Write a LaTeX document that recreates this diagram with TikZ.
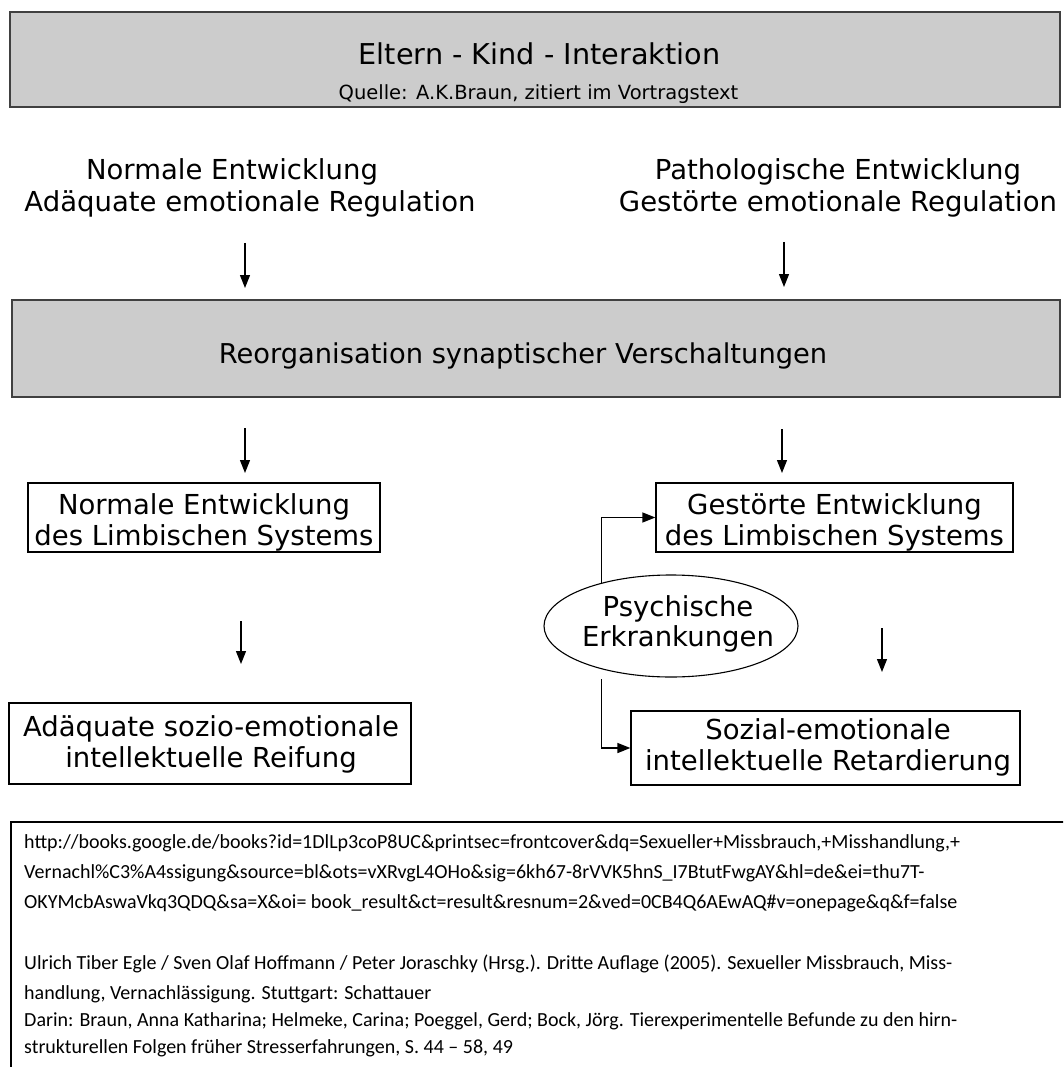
\documentclass[tikz,border=0pt]{standalone}
\usepackage{fontspec}
\setmainfont{DejaVu Sans}
\newfontfamily\reffont{Carlito}
\usetikzlibrary{arrows.meta,shapes.geometric}
\definecolor{boxgray}{HTML}{CCCCCC}
\definecolor{edgegray}{HTML}{404040}
\tikzset{
  graybox/.style={draw=edgegray, line width=1.6pt, fill=boxgray, rectangle, inner sep=0pt},
  whitebox/.style={draw=black, line width=1.2pt, rectangle, inner sep=0pt},
  ellbox/.style={draw=black, line width=1.1pt, ellipse, inner sep=0pt},
  maintxt/.style={font=\fontsize{27.5}{32}\selectfont, inner sep=0pt, anchor=base},
  titletxt/.style={font=\fontsize{28.7}{33}\selectfont, inner sep=0pt, anchor=base},
  srctxt/.style={font=\fontsize{19.5}{23}\selectfont, inner sep=0pt, anchor=base},
  reftxt/.style={font=\reffont\fontsize{20}{24}\selectfont, inner sep=0pt, anchor=base west},
  arr/.style={draw=black, line width=1.3pt, -{Triangle[length=13pt,width=10pt]}},
  conn/.style={draw=black, line width=1.3pt, -{Triangle[length=13pt,width=10pt]}}
}
\begin{document}
\begin{tikzpicture}[x=1pt,y=-1pt]
\useasboundingbox (0,0) rectangle (1063,1067);
\clip (0,0) rectangle (1063,1067);
\fill[white] (0,0) rectangle (1063,1067);

% top gray box
\node[graybox, minimum width=1050pt, minimum height=95pt] (top) at (535,59.5) {};
\node[titletxt] (title) at (539.5,65) {Eltern - Kind - Interaktion};
\node[srctxt] (quelle) at (538.5,100) {Quelle: A.K.Braun, zitiert im Vortragstext};

% headers
\node[maintxt] (hl1) at (232,180) {Normale Entwicklung};
\node[maintxt] (hl2) at (250,212) {Adäquate emotionale Regulation};
\node[maintxt] (hr1) at (838,180) {Pathologische Entwicklung};
\node[maintxt] (hr2) at (838,212) {Gestörte emotionale Regulation};

% arrows to middle box
\coordinate (a1s) at (245,243);
\coordinate (a1e) at (245,288);
\coordinate (a2s) at (784,242);
\coordinate (a2e) at (784,287);
\draw[arr] (a1s) -- (a1e);
\draw[arr] (a2s) -- (a2e);

% middle gray box
\node[graybox, minimum width=1048pt, minimum height=97pt] (mid) at (536,348.5) {};
\node[titletxt, font=\fontsize{27.3}{32}\selectfont] (midtxt) at (523,363) {Reorganisation synaptischer Verschaltungen};

% arrows below middle box
\coordinate (a3s) at (245,428);
\coordinate (a3e) at (245,473);
\coordinate (a4s) at (782,429);
\coordinate (a4e) at (782,473);
\draw[arr] (a3s) -- (a3e);
\draw[arr] (a4s) -- (a4e);

% limbic boxes
\node[whitebox, minimum width=352pt, minimum height=69pt] (ne) at (204,517.5) {};
\node[maintxt] (ne1) at (204,514) {Normale Entwicklung};
\node[maintxt] (ne2) at (204,545) {des Limbischen Systems};

\node[whitebox, minimum width=357pt, minimum height=69pt] (ge) at (834.5,517.5) {};
\node[maintxt] (ge1) at (834.5,514) {Gestörte Entwicklung};
\node[maintxt] (ge2) at (834.5,545) {des Limbischen Systems};

% ellipse
\node[ellbox, minimum width=254pt, minimum height=102pt] (ell) at (671,626) {};
\node[maintxt] (el1) at (678,616) {Psychische};
\node[maintxt] (el2) at (678,646) {Erkrankungen};

% arrows lower
\coordinate (a5s) at (241,621);
\coordinate (a5e) at (241,664);
\coordinate (a6s) at (882,628);
\coordinate (a6e) at (882,672);
\draw[arr] (a5s) -- (a5e);
\draw[arr] (a6s) -- (a6e);

% result boxes
\node[whitebox, minimum width=402pt, minimum height=81pt] (ad) at (210,743.5) {};
\node[maintxt] (ad1) at (211,736) {Adäquate sozio-emotionale};
\node[maintxt] (ad2) at (211,767) {intellektuelle Reifung};

\node[whitebox, minimum width=389pt, minimum height=74pt] (so) at (825.5,748) {};
\node[maintxt] (so1) at (828,739) {Sozial-emotionale};
\node[maintxt] (so2) at (828,770) {intellektuelle Retardierung};

% connectors from ellipse
\draw[conn] (ell.148) |- (ge.west);
\draw[conn] ([yshift=-10pt]ell.212) |- (so.west);

% reference box
\draw[black, line width=2pt] (1075,822) -- (11,822) -- (11,1080);
\node[reftxt] (r1) at (24,848) {http://books.google.de/books?id=1DlLp3coP8UC\&printsec=frontcover\&dq=Sexueller+Missbrauch,+Misshandlung,+};
\node[reftxt] (r2) at (24,878) {Vernachl\%C3\%A4ssigung\&source=bl\&ots=vXRvgL4OHo\&sig=6kh67-8rVVK5hnS\_I7BtutFwgAY\&hl=de\&ei=thu7T-};
\node[reftxt] (r3) at (24,908) {OKYMcbAswaVkq3QDQ\&sa=X\&oi= book\_result\&ct=result\&resnum=2\&ved=0CB4Q6AEwAQ\#v=onepage\&q\&f=false};
\node[reftxt] (r4) at (24,969) {Ulrich Tiber Egle / Sven Olaf Hoffmann / Peter Joraschky (Hrsg.). Dritte Auflage (2005). Sexueller Missbrauch, Miss-};
\node[reftxt] (r5) at (24,999) {handlung, Vernachlässigung. Stuttgart: Schattauer};
\node[reftxt] (r6) at (24,1026) {Darin: Braun, Anna Katharina; Helmeke, Carina; Poeggel, Gerd; Bock, Jörg. Tierexperimentelle Befunde zu den hirn-};
\node[reftxt] (r7) at (24,1053) {strukturellen Folgen früher Stresserfahrungen, S. 44 – 58, 49};
\end{tikzpicture}
\end{document}
